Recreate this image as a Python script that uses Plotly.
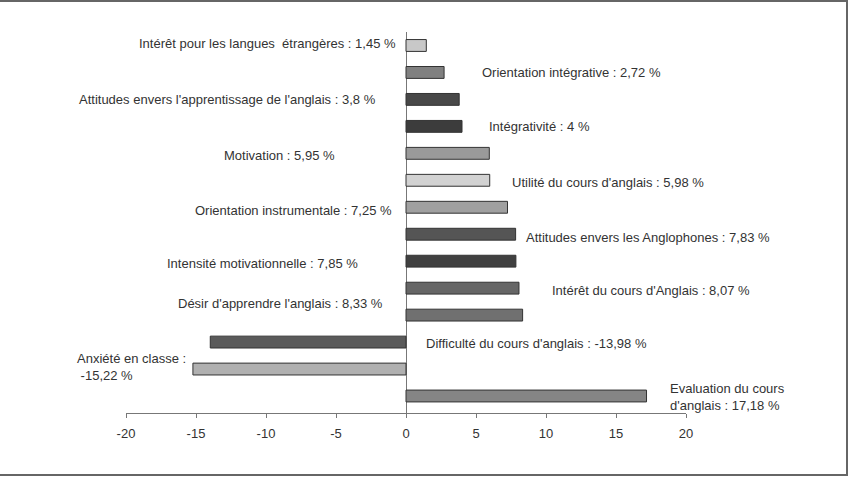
import plotly.graph_objects as go

# ---- data ----
categories = [
    "Intérêt pour les langues étrangères",
    "Orientation intégrative",
    "Attitudes envers l'apprentissage de l'anglais",
    "Intégrativité",
    "Motivation",
    "Utilité du cours d'anglais",
    "Orientation instrumentale",
    "Attitudes envers les Anglophones",
    "Intensité motivationnelle",
    "Intérêt du cours d'Anglais",
    "Désir d'apprendre l'anglais",
    "Difficulté du cours d'anglais",
    "Anxiété en classe",
    "Evaluation du cours d'anglais",
]
values = [1.45, 2.72, 3.8, 4.0, 5.95, 5.98, 7.25, 7.83, 7.85, 8.07, 8.33, -13.98, -15.22, 17.18]
labels = [
    "Intérêt pour les langues  étrangères : 1,45 %",
    "Orientation intégrative : 2,72 %",
    "Attitudes envers l'apprentissage de l'anglais : 3,8 %",
    "Intégrativité : 4 %",
    "Motivation : 5,95 %",
    "Utilité du cours d'anglais : 5,98 %",
    "Orientation instrumentale : 7,25 %",
    "Attitudes envers les Anglophones : 7,83 %",
    "Intensité motivationnelle : 7,85 %",
    "Intérêt du cours d'Anglais : 8,07 %",
    "Désir d'apprendre l'anglais : 8,33 %",
    "Difficulté du cours d'anglais : -13,98 %",
    "Anxiété en classe :<br> -15,22 %",
    "Evaluation du cours<br>d'anglais : 17,18 %",
]
tick_vals = [-20, -15, -10, -5, 0, 5, 10, 15, 20]

# ---- style ----
X_MIN, X_MAX = -20, 20
bar_colors = ["#c8c8c8", "#808080", "#484848", "#3c3c3c", "#9a9a9a", "#d2d2d2", "#a0a0a0",
              "#555555", "#404040", "#666666", "#707070", "#5a5a5a", "#b0b0b0", "#858585"]
# label placement: (x in axis units, anchor, vertical shift px)
label_pos = [(-0.57, "right", 2), (5.3, "left", 0), (-2.0, "right", 0), (5.8, "left", 0),
             (-4.9, "right", -2), (7.45, "left", -2), (-0.86, "right", -3), (8.45, "left", -3),
             (-3.3, "right", -2), (10.3, "left", -2), (-1.5, "right", 12), (1.3, "left", -1),
             (-23.65, "left", 2), (18.7, "left", -1)]
label_font = dict(family="Liberation Sans, Arial, sans-serif", size=13, color="#333333")

fig = go.Figure(go.Bar(
    y=categories, x=values, orientation="h",
    marker=dict(color=bar_colors, line=dict(color="#333333", width=1)),
    width=0.44, hoverinfo="x+y",
))

annotations = []
for cat, lab, (lx, anc, ys) in zip(categories, labels, label_pos):
    annotations.append(dict(
        x=(lx - X_MIN) / (X_MAX - X_MIN), y=cat, xref="paper", yref="y", text=lab,
        showarrow=False, xanchor=anc, yanchor="middle", yshift=ys, align="left",
        font=label_font,
    ))

fig.update_layout(
    width=851, height=480,
    margin=dict(l=126, r=165, t=32, b=67),
    paper_bgcolor="white", plot_bgcolor="white",
    showlegend=False,
    annotations=annotations,
    font=dict(family="Liberation Sans, Arial, sans-serif", color="#333333"),
    shapes=[dict(type="rect", xref="paper", yref="paper",
                 x0=-130 / 560, x1=(847 - 126) / 560,
                 y0=(413 - 475) / 381, y1=(413 - 1) / 381,
                 line=dict(color="#666666", width=2), fillcolor="rgba(0,0,0,0)",
                 layer="below")],
)
fig.update_xaxes(
    range=[X_MIN, X_MAX], tickvals=tick_vals, ticktext=[str(v) for v in tick_vals],
    showgrid=False, zeroline=True, zerolinecolor="#777777", zerolinewidth=1,
    showline=True, linecolor="#777777", linewidth=1,
    ticks="outside", ticklen=4, tickcolor="#777777", ticklabelstandoff=4,
    tickfont=dict(family="Liberation Sans, Arial, sans-serif", size=13, color="#333333"),
)
fig.update_yaxes(
    autorange="reversed", showticklabels=False, showgrid=False, zeroline=False,
    showline=False, ticks="",
)

fig.write_html("out.html")
